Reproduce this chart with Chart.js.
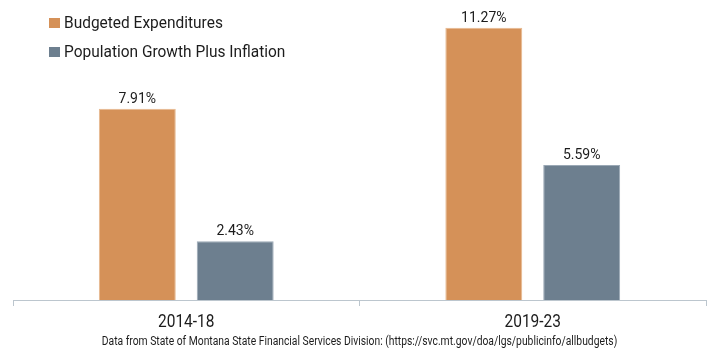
<!DOCTYPE html>
<html>
<head>
<meta charset="utf-8">
<script src="https://cdn.jsdelivr.net/npm/chart.js@4/dist/chart.umd.min.js"></script>
<style>
  body { margin: 0; background: #fff; }
</style>
</head>
<body>
<canvas id="budgetChart" width="707" height="350"></canvas>
<script>
const categories = ['2014-18', '2019-23'];
const budgetedExpenditures = [7.91, 11.27];
const popGrowthInflation = [2.43, 5.59];
const seriesNames = ['Budgeted Expenditures', 'Population Growth Plus Inflation'];
const seriesColors = ['#D59158', '#6D7F8F'];
const sourceNote = 'Data from State of Montana State Financial Services Division: (https://svc.mt.gov/doa/lgs/publicinfo/allbudgets)';
const FONT = 'Roboto, sans-serif';
const TEXT = '#1c1c1c';

// the original uses a condensed face, so squeeze roboto horizontally
function narrowText(ctx, text, x, y, sx, align) {
    ctx.save();
    ctx.translate(x, y);
    ctx.scale(sx, 1);
    ctx.textAlign = align;
    ctx.textBaseline = 'alphabetic';
    ctx.fillText(text, 0, 0);
    ctx.restore();
}

const textLayer = {
    id: 'textLayer',
    afterDatasetsDraw(chart) {
        const ctx = chart.ctx;
        ctx.save();
        ctx.fillStyle = TEXT;

        // value labels above bars
        ctx.font = '14px ' + FONT;
        chart.data.datasets.forEach(function(ds, i) {
            chart.getDatasetMeta(i).data.forEach(function(bar, j) {
                narrowText(ctx, ds.data[j].toFixed(2) + '%', bar.x, bar.y - 6, 1, 'center');
            });
        });

        // category labels under the axis
        const xScale = chart.scales.x;
        ctx.font = '18px ' + FONT;
        categories.forEach(function(c, i) {
            narrowText(ctx, c, xScale.getPixelForValue(i), 327, 0.86, 'center');
        });

        // source note
        ctx.font = '12px ' + FONT;
        const mid = (chart.chartArea.left + chart.chartArea.right) / 2;
        narrowText(ctx, sourceNote, mid, 345, 0.86, 'center');

        // legend, top left
        ctx.font = '17px ' + FONT;
        chart.data.datasets.forEach(function(ds, i) {
            const base = 28 + i * 29;
            ctx.fillStyle = ds.backgroundColor;
            ctx.fillRect(49, base - 10, 11, 10);
            ctx.fillStyle = TEXT;
            narrowText(ctx, ds.label, 64, base, 0.91, 'left');
        });
        ctx.restore();
    }
};

const ctx = document.getElementById('budgetChart').getContext('2d');
new Chart(ctx, {
    type: 'bar',
    data: {
        labels: categories,
        datasets: [{
            label: seriesNames[0],
            data: budgetedExpenditures,
            backgroundColor: seriesColors[0],
            borderColor: '#e7b98f',
            borderWidth: 1
        }, {
            label: seriesNames[1],
            data: popGrowthInflation,
            backgroundColor: seriesColors[1],
            borderColor: '#9aa8b5',
            borderWidth: 1
        }]
    },
    options: {
        responsive: false,
        animation: false,
        layout: { padding: { top: 10, left: 13, right: 1, bottom: 44 } },
        datasets: { bar: { categoryPercentage: 0.565, barPercentage: 0.786 } },
        plugins: {
            legend: { display: false },
            tooltip: { enabled: false }
        },
        scales: {
            x: {
                grid: { drawOnChartArea: false, drawTicks: true, tickLength: 6, color: '#bcc6ce' },
                border: { color: '#bcc6ce' },
                ticks: { display: false }
            },
            y: {
                display: false,
                min: 0,
                max: 12
            }
        }
    },
    plugins: [textLayer]
});
</script>
</body>
</html>
